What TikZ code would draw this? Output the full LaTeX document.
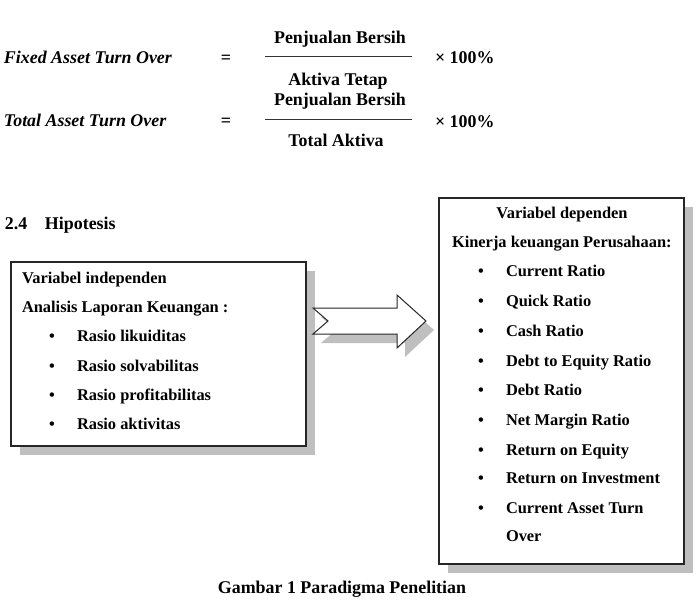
\documentclass[tikz,border=0pt]{standalone}
\usepackage{fontspec}
\setmainfont{Liberation Serif}
\begin{document}
\begin{tikzpicture}[x=1pt,y=-1pt,
  every node/.style={inner sep=0pt, outer sep=0pt},
  big/.style={font=\fontsize{17.9}{21}\selectfont\bfseries},
  small/.style={font=\fontsize{16.4}{19}\selectfont\bfseries},
  shadowfill/.style={fill=black!25, draw=none},
  boxline/.style={draw=black!85, line width=1.2pt, fill=white},
  fracline/.style={draw=black!80, line width=1pt},
  bul/.style={small, anchor=base},
  item/.style={small, anchor=base west}]
\useasboundingbox (0,0) rectangle (697,605);
% formulas
\node[big, anchor=base west] (f1) at (4,63) {\itshape Fixed Asset Turn Over};
\node[big, anchor=base] (eq1) at (226,63) {=};
\node[big, anchor=base] (n1) at (340,43) {Penjualan Bersih};
\coordinate (l1a) at (265,56.5);
\coordinate (l1b) at (412,56.5);
\draw[fracline] (l1a) -- (l1b);
\node[big, anchor=base] (d1) at (338,85) {Aktiva Tetap};
\node[big, anchor=base west] (m1) at (435,63) {× 100\%};
\node[big, anchor=base west] (f2) at (4,126) {\itshape Total Asset Turn Over};
\node[big, anchor=base] (eq2) at (226,126) {=};
\node[big, anchor=base] (n2) at (340,105) {Penjualan Bersih};
\coordinate (l2a) at (265,119.5);
\coordinate (l2b) at (412,119.5);
\draw[fracline] (l2a) -- (l2b);
\node[big, anchor=base] (d2) at (336,146.5) {Total Aktiva};
\node[big, anchor=base west] (m2) at (435,127) {× 100\%};
% heading
\node[big, anchor=base west] (h1) at (5,229) {2.4};
\node[big, anchor=base west] (h2) at (45,229) {Hipotesis};
% left box
\fill[shadowfill] (19.5,270.5) rectangle (314.5,454.5);
\draw[boxline] (11,262) rectangle (306,446);
\node[item] (L0) at (22,283) {Variabel independen};
\node[item] (L1) at (22,312) {Analisis Laporan Keuangan :};
\foreach \y/\t [count=\i] in {341.5/Rasio likuiditas,371/Rasio solvabilitas,400/Rasio profitabilitas,429/Rasio aktivitas}{
  \node[bul] (Lb\i) at (52,\y) {•};
  \node[item] (Li\i) at (77,\y) {\t};
}
% arrow
\fill[shadowfill] (321,317) -- (405,317) -- (405,304) -- (434,330) -- (405,357) -- (405,343) -- (321,343) -- (336,330) -- cycle;
\draw[draw=black!85, line width=1pt, fill=white, line join=miter] (313,308) -- (397,308) -- (397,295) -- (426,321) -- (397,348) -- (397,334) -- (313,334) -- (328,321) -- cycle;
% right box
\fill[shadowfill] (447.5,206.5) rectangle (692.5,572.5);
\draw[boxline] (439,198) rectangle (684,564);
\node[small, anchor=base] (R0) at (562,218) {Variabel dependen};
\node[item] (R1) at (452,247) {Kinerja keuangan Perusahaan:};
\foreach \y/\t [count=\i] in {276/Current Ratio,306/Quick Ratio,336/Cash Ratio,366/Debt to Equity Ratio,395/Debt Ratio,425/Net Margin Ratio,455/Return on Equity,483.5/Return on Investment,513/Current Asset Turn}{
  \node[bul] (Rb\i) at (481,\y) {•};
  \node[item] (Ri\i) at (506,\y) {\t};
}
\node[item] (Ri10) at (506,541.5) {Over};
% caption
\node[big, anchor=base] (cap) at (342,593) {Gambar 1 Paradigma Penelitian};
\end{tikzpicture}
\end{document}
